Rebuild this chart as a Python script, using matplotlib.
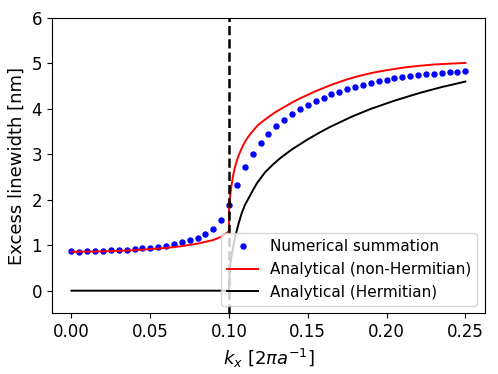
import numpy as np
import matplotlib
matplotlib.use("Agg")
import matplotlib.pyplot as plt

# numerical summation, every 0.005 in k_x
k_num = [0.000, 0.005, 0.010, 0.015, 0.020, 0.025, 0.030, 0.035, 0.040, 0.045,
         0.050, 0.055, 0.060, 0.065, 0.070, 0.075, 0.080, 0.085, 0.090, 0.095,
         0.100, 0.105, 0.110, 0.115, 0.120, 0.125, 0.130, 0.135, 0.140, 0.145,
         0.150, 0.155, 0.160, 0.165, 0.170, 0.175, 0.180, 0.185, 0.190, 0.195,
         0.200, 0.205, 0.210, 0.215, 0.220, 0.225, 0.230, 0.235, 0.240, 0.245,
         0.250]
lw_num = [0.868, 0.862, 0.866, 0.868, 0.875, 0.888, 0.897, 0.905, 0.918, 0.933,
          0.949, 0.970, 0.993, 1.022, 1.066, 1.110, 1.169, 1.250, 1.368, 1.559,
          1.890, 2.331, 2.713, 3.007, 3.250, 3.449, 3.618, 3.757, 3.882, 3.993,
          4.081, 4.169, 4.243, 4.316, 4.375, 4.434, 4.478, 4.522, 4.566, 4.610,
          4.640, 4.669, 4.691, 4.713, 4.735, 4.757, 4.772, 4.787, 4.801, 4.816,
          4.824]

# analytical, non-Hermitian
k_nh = [0.000, 0.020, 0.040, 0.060, 0.070, 0.080, 0.090, 0.095, 0.098, 0.100,
        0.100, 0.1003, 0.1008, 0.1015, 0.1025, 0.104, 0.106, 0.108, 0.110, 0.1125,
        0.115, 0.118, 0.1215, 0.125, 0.130, 0.135, 0.140, 0.145, 0.150, 0.155,
        0.160, 0.165, 0.170, 0.175, 0.180, 0.185, 0.190, 0.195, 0.200, 0.210,
        0.220, 0.230, 0.240, 0.250]
lw_nh = [0.855, 0.865, 0.890, 0.940, 0.980, 1.035, 1.115, 1.185, 1.255, 1.310,
         1.860, 1.980, 2.120, 2.300, 2.520, 2.750, 2.970, 3.130, 3.270, 3.400,
         3.510, 3.630, 3.730, 3.820, 3.940, 4.040, 4.140, 4.230, 4.310, 4.390,
         4.460, 4.530, 4.590, 4.650, 4.700, 4.745, 4.785, 4.820, 4.850, 4.905,
         4.945, 4.975, 4.995, 5.010]

# analytical, Hermitian
k_h = [0.000, 0.100, 0.1003, 0.101, 0.102, 0.103, 0.104, 0.106, 0.108, 0.110,
       0.1125, 0.115, 0.118, 0.123, 0.128, 0.133, 0.140, 0.150, 0.157, 0.164,
       0.178, 0.190, 0.205, 0.221, 0.235, 0.250]
lw_h = [0.000, 0.000, 0.350, 0.620, 0.850, 1.030, 1.200, 1.470, 1.700, 1.880,
        2.040, 2.200, 2.380, 2.610, 2.780, 2.930, 3.110, 3.330, 3.470, 3.600,
        3.830, 4.000, 4.180, 4.350, 4.480, 4.600]

k_cut = 0.1

fig = plt.figure(figsize=(4.98, 3.74), dpi=100)
ax = fig.add_axes([0.104, 0.162, 0.870, 0.790])

ax.plot(k_num, lw_num, linestyle='none', marker='o', color='blue',
        markersize=3.6, label='Numerical summation')
ax.plot(k_nh, lw_nh, color='red', lw=1.4, label='Analytical (non-Hermitian)')
ax.plot(k_h, lw_h, color='black', lw=1.4, label='Analytical (Hermitian)')
ax.axvline(k_cut, color='black', ls='--', lw=1.8)

ax.set_xlim(-0.0125, 0.2625)
ax.set_ylim(-0.5, 6)
ax.set_xticks([0, 0.05, 0.10, 0.15, 0.20, 0.25])
ax.set_yticks([0, 1, 2, 3, 4, 5, 6])
ax.tick_params(labelsize=12)
ax.set_xlabel(r'$k_x$ [$2\pi a^{-1}$]', fontsize=13)
ax.set_ylabel('Excess linewidth [nm]', fontsize=13)
ax.legend(loc='lower right', fontsize=11, numpoints=1)

fig.savefig('out.png', dpi=100)
